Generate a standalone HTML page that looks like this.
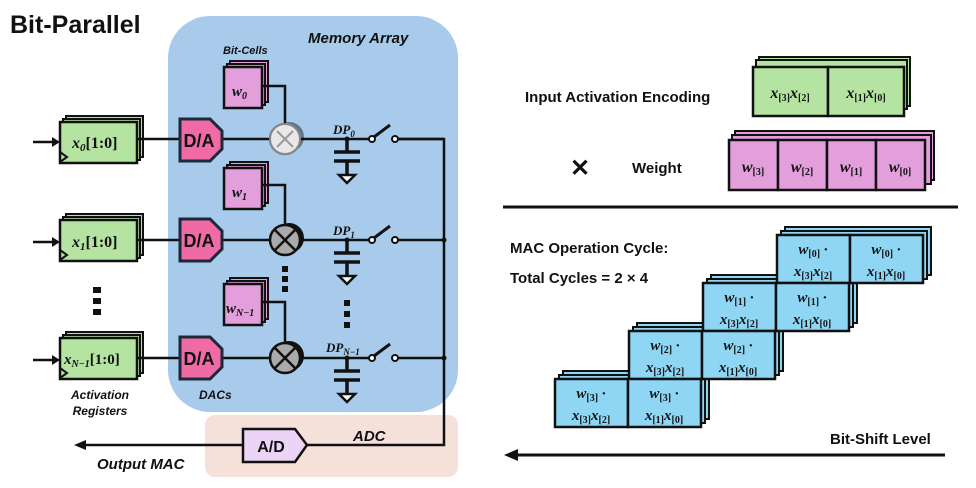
<!DOCTYPE html>
<html><head><meta charset="utf-8"><style>
body{margin:0;background:#fff}
svg{display:block}
.s{font-family:"Liberation Sans",sans-serif;font-weight:bold}
.m{font-family:"Liberation Serif",serif;font-weight:bold;font-style:italic}
.r{font-family:"Liberation Serif",serif;font-weight:bold}
</style></head><body>
<svg width="976" height="488" viewBox="0 0 976 488" xmlns="http://www.w3.org/2000/svg">
<defs>
<g id="green"><rect x="6" y="-6" width="77" height="41" fill="#b5e3a1" stroke="#111" stroke-width="2"/><rect x="3" y="-3" width="77" height="41" fill="#b5e3a1" stroke="#111" stroke-width="2"/><rect x="0" y="0" width="77" height="41" fill="#b5e3a1" stroke="#111" stroke-width="2.5"/><path d="M0,30 L7,35 L0,40" fill="none" stroke="#111" stroke-width="2"/></g>
<g id="pinkw"><rect x="6" y="-6" width="38" height="41" fill="#e39fdc" stroke="#111" stroke-width="2"/><rect x="3" y="-3" width="38" height="41" fill="#e39fdc" stroke="#111" stroke-width="2"/><rect x="0" y="0" width="38" height="41" fill="#e39fdc" stroke="#111" stroke-width="2.5"/></g>
<g id="da"><path d="M0,0 H30 L42,12 V30 L30,42 H0 Z" fill="#f06aa6" stroke="#1a2a3a" stroke-width="3"/><text x="19" y="28" text-anchor="middle" class="s" font-size="18" fill="#111">D/A</text></g>
<g id="mul"><circle cx="4" cy="-2" r="15" fill="#111"/><circle cx="2" cy="-1" r="15" fill="#111"/><circle cx="0" cy="0" r="15" fill="#aaa" stroke="#111" stroke-width="2.5"/><path d="M-10,-10 L10,10 M10,-10 L-10,10" stroke="#111" stroke-width="2.5"/></g>
<g id="cap"><path d="M0,0 V13 M-13,13 H13 M-13,22 H13 M0,22 V36" stroke="#111" stroke-width="3.5" fill="none"/><path d="M-8,36 H8 L0,44 Z" fill="#fff" stroke="#111" stroke-width="2.5"/></g>
<g id="sw"><circle cx="0" cy="0" r="3" fill="#fff" stroke="#111" stroke-width="2"/><path d="M2,-2 L18,-14" stroke="#111" stroke-width="3"/><circle cx="23" cy="0" r="3" fill="#fff" stroke="#111" stroke-width="2"/></g>
<g id="cell"><rect x="0" y="0" width="73" height="48" fill="#8fd6f5" stroke="#111" stroke-width="2.5"/></g>
</defs>

<rect x="168" y="16" width="290" height="396" rx="42" fill="#a8cbeb"/>
<rect x="205" y="415" width="253" height="62" rx="10" fill="#f6e0da"/>

<text x="10" y="33" class="s" font-size="25" fill="#111">Bit-Parallel</text>
<text x="308" y="43" class="s" font-size="15" font-style="italic" fill="#111">Memory Array</text>
<text x="223" y="54" class="s" font-size="11" font-style="italic" fill="#111">Bit-Cells</text>

<!-- bus -->
<path d="M396,139 H444 V445 H307" fill="none" stroke="#111" stroke-width="2.5"/>
<circle cx="444" cy="240" r="2.5" fill="#111"/><circle cx="444" cy="358" r="2.5" fill="#111"/>

<!-- row 0 -->
<path d="M33,142 H58" stroke="#111" stroke-width="2.5"/><path d="M52,137 L60,142 L52,147Z" fill="#111"/>
<use href="#green" x="60" y="122"/>
<text x="72" y="148" class="m" font-size="16" fill="#111">x<tspan font-size="11" dy="3">0</tspan><tspan dy="-3" class="r" font-style="normal">[1:0]</tspan></text>
<path d="M137,139 H180 M222,139 H372 M396,139 H444" stroke="#111" stroke-width="2.5"/>
<use href="#da" x="180" y="119"/>
<use href="#pinkw" x="224" y="67"/>
<text x="232" y="96" class="m" font-size="15" fill="#111">w<tspan font-size="10" dy="3">0</tspan></text>
<path d="M262,86 H285 V124" fill="none" stroke="#111" stroke-width="2.5"/>
<g opacity="0.45"><use href="#mul" x="285" y="139"/></g>
<circle cx="285" cy="139" r="15" fill="#e8e8e8" stroke="#888" stroke-width="2"/>
<path d="M277,131 L293,147 M293,131 L277,147" stroke="#999" stroke-width="2"/>
<text x="333" y="134" class="m" font-size="13" fill="#111">DP<tspan font-size="9" dy="3">0</tspan></text>
<circle cx="347" cy="139" r="2.5" fill="#111"/>
<use href="#cap" x="347" y="139"/>
<use href="#sw" x="372" y="139"/>

<!-- row 1 -->
<path d="M33,242 H58" stroke="#111" stroke-width="2.5"/><path d="M52,237 L60,242 L52,247Z" fill="#111"/>
<use href="#green" x="60" y="220"/>
<text x="72" y="247" class="m" font-size="16" fill="#111">x<tspan font-size="11" dy="3">1</tspan><tspan dy="-3" class="r" font-style="normal">[1:0]</tspan></text>
<path d="M137,240 H180 M222,240 H372 M396,240 H444" stroke="#111" stroke-width="2.5"/>
<use href="#da" x="180" y="219"/>
<use href="#pinkw" x="224" y="168"/>
<text x="232" y="197" class="m" font-size="15" fill="#111">w<tspan font-size="10" dy="3">1</tspan></text>
<path d="M262,185 H285 V225" fill="none" stroke="#111" stroke-width="2.5"/>
<use href="#mul" x="285" y="240"/>
<text x="333" y="235" class="m" font-size="13" fill="#111">DP<tspan font-size="9" dy="3">1</tspan></text>
<circle cx="347" cy="240" r="2.5" fill="#111"/>
<use href="#cap" x="347" y="240"/>
<use href="#sw" x="372" y="240"/>

<!-- dots -->
<g fill="#111"><rect x="93" y="287" width="8" height="6"/><rect x="93" y="298" width="8" height="6"/><rect x="93" y="309" width="8" height="6"/>
<rect x="282" y="266" width="6" height="6"/><rect x="282" y="276" width="6" height="6"/><rect x="282" y="286" width="6" height="6"/>
<rect x="344" y="300" width="6" height="6"/><rect x="344" y="311" width="6" height="6"/><rect x="344" y="322" width="6" height="6"/></g>

<!-- row N-1 -->
<path d="M33,360 H58" stroke="#111" stroke-width="2.5"/><path d="M52,355 L60,360 L52,365Z" fill="#111"/>
<use href="#green" x="60" y="338"/>
<text x="64" y="364" class="m" font-size="15" fill="#111">x<tspan font-size="10" dy="3">N−1</tspan><tspan dy="-3" class="r" font-style="normal">[1:0]</tspan></text>
<path d="M137,358 H180 M222,358 H372 M396,358 H444" stroke="#111" stroke-width="2.5"/>
<use href="#da" x="180" y="337"/>
<use href="#pinkw" x="224" y="284"/>
<text x="226" y="313" class="m" font-size="15" fill="#111">w<tspan font-size="10" dy="3">N−1</tspan></text>
<path d="M262,302 H285 V343" fill="none" stroke="#111" stroke-width="2.5"/>
<use href="#mul" x="285" y="358"/>
<text x="326" y="352" class="m" font-size="13" fill="#111">DP<tspan font-size="9" dy="3">N−1</tspan></text>
<circle cx="347" cy="358" r="2.5" fill="#111"/>
<use href="#cap" x="347" y="358"/>
<use href="#sw" x="372" y="358"/>

<text x="100" y="399" text-anchor="middle" class="s" font-size="12" font-style="italic" fill="#111">Activation</text>
<text x="100" y="415" text-anchor="middle" class="s" font-size="12" font-style="italic" fill="#111">Registers</text>
<text x="199" y="399" class="s" font-size="12" font-style="italic" fill="#111">DACs</text>
<text x="353" y="441" class="s" font-size="15" font-style="italic" fill="#111">ADC</text>

<path d="M243,429 H295 L307,445 L295,462 H243 Z" fill="#ecd4f6" stroke="#111" stroke-width="2.5"/>
<text x="271" y="452" text-anchor="middle" class="s" font-size="16" fill="#111">A/D</text>
<path d="M243,445 H80" stroke="#111" stroke-width="2.5"/><path d="M86,440 L74,445 L86,450Z" fill="#111"/>
<text x="97" y="469" class="s" font-size="15" font-style="italic" fill="#111">Output MAC</text>

<!-- right top -->
<text x="525" y="102" class="s" font-size="15" fill="#111">Input Activation Encoding</text>
<rect x="759" y="57" width="151" height="49" fill="#b5e3a1" stroke="#111" stroke-width="2"/>
<rect x="756" y="60" width="151" height="49" fill="#b5e3a1" stroke="#111" stroke-width="2"/>
<rect x="753" y="67" width="75" height="49" fill="#b5e3a1" stroke="#111" stroke-width="2.5"/>
<rect x="828" y="67" width="76" height="49" fill="#b5e3a1" stroke="#111" stroke-width="2.5"/>
<text x="790" y="98" text-anchor="middle" class="m" font-size="16" fill="#111">x<tspan font-size="10" dy="3" class="r" font-style="normal">[3]</tspan><tspan dy="-3">x</tspan><tspan font-size="10" dy="3" class="r" font-style="normal">[2]</tspan></text>
<text x="866" y="98" text-anchor="middle" class="m" font-size="16" fill="#111">x<tspan font-size="10" dy="3" class="r" font-style="normal">[1]</tspan><tspan dy="-3">x</tspan><tspan font-size="10" dy="3" class="r" font-style="normal">[0]</tspan></text>

<text x="580" y="176" text-anchor="middle" class="s" font-size="24" fill="#111">✕</text>
<text x="632" y="173" class="s" font-size="15" fill="#111">Weight</text>
<rect x="735" y="131" width="199" height="49" fill="#e39fdc" stroke="#111" stroke-width="2"/>
<rect x="732" y="135" width="199" height="49" fill="#e39fdc" stroke="#111" stroke-width="2"/>
<rect x="729" y="140" width="49" height="50" fill="#e39fdc" stroke="#111" stroke-width="2.5"/>
<rect x="778" y="140" width="49" height="50" fill="#e39fdc" stroke="#111" stroke-width="2.5"/>
<rect x="827" y="140" width="49" height="50" fill="#e39fdc" stroke="#111" stroke-width="2.5"/>
<rect x="876" y="140" width="49" height="50" fill="#e39fdc" stroke="#111" stroke-width="2.5"/>
<g class="m" font-size="16" fill="#111" text-anchor="middle">
<text x="753" y="172">w<tspan font-size="10" dy="3" class="r" font-style="normal">[3]</tspan></text>
<text x="802" y="172">w<tspan font-size="10" dy="3" class="r" font-style="normal">[2]</tspan></text>
<text x="851" y="172">w<tspan font-size="10" dy="3" class="r" font-style="normal">[1]</tspan></text>
<text x="900" y="172">w<tspan font-size="10" dy="3" class="r" font-style="normal">[0]</tspan></text>
</g>
<path d="M503,207 H958" stroke="#111" stroke-width="3"/>

<text x="510" y="253" class="s" font-size="15" fill="#111">MAC Operation Cycle:</text>
<text x="510" y="283" class="s" font-size="15" fill="#111">Total Cycles = 2 × 4</text>

<!-- MAC stacks -->
<g stroke="#111" stroke-width="2" fill="#8fd6f5">
<rect x="785" y="227" width="146" height="48"/><rect x="781" y="231" width="146" height="48"/>
<rect x="711" y="275" width="146" height="48"/><rect x="707" y="279" width="146" height="48"/>
<rect x="637" y="323" width="146" height="48"/><rect x="633" y="327" width="146" height="48"/>
<rect x="563" y="371" width="146" height="48"/><rect x="559" y="375" width="146" height="48"/>
</g>
<use href="#cell" x="777" y="235"/><use href="#cell" x="850" y="235"/>
<use href="#cell" x="703" y="283"/><use href="#cell" x="776" y="283"/>
<use href="#cell" x="629" y="331"/><use href="#cell" x="702" y="331"/>
<use href="#cell" x="555" y="379"/><use href="#cell" x="628" y="379"/>
<g class="m" font-size="15" fill="#111" text-anchor="middle">
<text x="813" y="254">w<tspan font-size="10" dy="3" class="r" font-style="normal">[0]</tspan><tspan dy="-3"> ·</tspan></text>
<text x="813" y="276">x<tspan font-size="10" dy="3" class="r" font-style="normal">[3]</tspan><tspan dy="-3">x</tspan><tspan font-size="10" dy="3" class="r" font-style="normal">[2]</tspan></text>
<text x="886" y="254">w<tspan font-size="10" dy="3" class="r" font-style="normal">[0]</tspan><tspan dy="-3"> ·</tspan></text>
<text x="886" y="276">x<tspan font-size="10" dy="3" class="r" font-style="normal">[1]</tspan><tspan dy="-3">x</tspan><tspan font-size="10" dy="3" class="r" font-style="normal">[0]</tspan></text>
<text x="739" y="302">w<tspan font-size="10" dy="3" class="r" font-style="normal">[1]</tspan><tspan dy="-3"> ·</tspan></text>
<text x="739" y="324">x<tspan font-size="10" dy="3" class="r" font-style="normal">[3]</tspan><tspan dy="-3">x</tspan><tspan font-size="10" dy="3" class="r" font-style="normal">[2]</tspan></text>
<text x="812" y="302">w<tspan font-size="10" dy="3" class="r" font-style="normal">[1]</tspan><tspan dy="-3"> ·</tspan></text>
<text x="812" y="324">x<tspan font-size="10" dy="3" class="r" font-style="normal">[1]</tspan><tspan dy="-3">x</tspan><tspan font-size="10" dy="3" class="r" font-style="normal">[0]</tspan></text>
<text x="665" y="350">w<tspan font-size="10" dy="3" class="r" font-style="normal">[2]</tspan><tspan dy="-3"> ·</tspan></text>
<text x="665" y="372">x<tspan font-size="10" dy="3" class="r" font-style="normal">[3]</tspan><tspan dy="-3">x</tspan><tspan font-size="10" dy="3" class="r" font-style="normal">[2]</tspan></text>
<text x="738" y="350">w<tspan font-size="10" dy="3" class="r" font-style="normal">[2]</tspan><tspan dy="-3"> ·</tspan></text>
<text x="738" y="372">x<tspan font-size="10" dy="3" class="r" font-style="normal">[1]</tspan><tspan dy="-3">x</tspan><tspan font-size="10" dy="3" class="r" font-style="normal">[0]</tspan></text>
<text x="591" y="398">w<tspan font-size="10" dy="3" class="r" font-style="normal">[3]</tspan><tspan dy="-3"> ·</tspan></text>
<text x="591" y="420">x<tspan font-size="10" dy="3" class="r" font-style="normal">[3]</tspan><tspan dy="-3">x</tspan><tspan font-size="10" dy="3" class="r" font-style="normal">[2]</tspan></text>
<text x="664" y="398">w<tspan font-size="10" dy="3" class="r" font-style="normal">[3]</tspan><tspan dy="-3"> ·</tspan></text>
<text x="664" y="420">x<tspan font-size="10" dy="3" class="r" font-style="normal">[1]</tspan><tspan dy="-3">x</tspan><tspan font-size="10" dy="3" class="r" font-style="normal">[0]</tspan></text>
</g>

<text x="830" y="444" class="s" font-size="15" fill="#111">Bit-Shift Level</text>
<path d="M945,455 H515" stroke="#111" stroke-width="3"/><path d="M518,449 L504,455 L518,461Z" fill="#111"/>
</svg>
</body></html>
